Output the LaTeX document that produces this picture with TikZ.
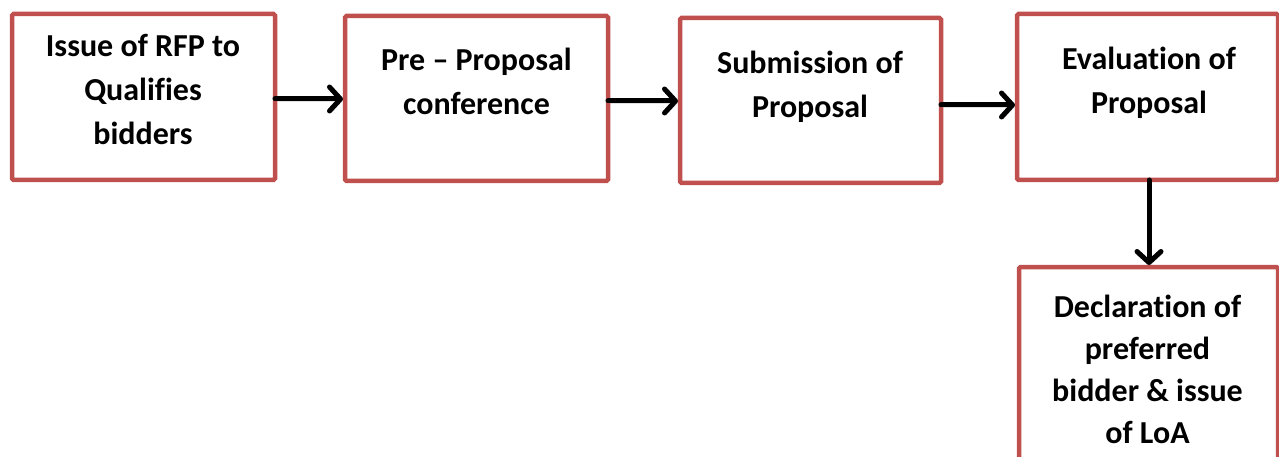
\documentclass[tikz,border=0pt]{standalone}
\usepackage{fontspec}
\setmainfont[Ligatures=NoCommon]{Carlito}
\usetikzlibrary{arrows.meta}
\definecolor{boxred}{HTML}{C0504D}
\begin{document}
\begin{tikzpicture}[x=1pt,y=-1pt,
  stagebox/.style={draw=boxred, line width=4.5pt, rounded corners=1.5pt, fill=white,
    inner sep=0pt, outer sep=0pt},
  stagetext/.style={font=\fontsize{32}{44}\selectfont\bfseries, align=center,
    anchor=base, inner sep=0pt},
  flow/.style={line width=5pt, line cap=round,
    -{Straight Barb[length=11pt,width=24pt,line cap=round,line join=round]},
    shorten >=2pt,
    preaction={draw=black!35, draw opacity=0.35, transform canvas={shift={(1.5pt,-2.5pt)}}}}]
\useasboundingbox (0,0) rectangle (1279,457);
\clip (0,0) rectangle (1279,457);

% stage boxes
\node[stagebox, minimum width=263pt, minimum height=166pt] (b1) at (143.5,97) {};
\node[stagebox, minimum width=263pt, minimum height=165pt] (b2) at (476.5,98.5) {};
\node[stagebox, minimum width=261pt, minimum height=165pt] (b3) at (810.5,100.5) {};
\node[stagebox, minimum width=261pt, minimum height=166pt] (b4) at (1147.5,97) {};
\node[stagebox, minimum width=259pt, minimum height=233pt] (b5) at (1148.5,383.5) {};

% stage labels (anchored on the baseline of their last line)
\node[stagetext] (t1) at (143,145) {Issue of RFP to\\Qualifies\\bidders};
\node[stagetext] (t2) at (476.5,115) {Pre – Proposal\\conference};
\node[stagetext] (t3) at (810,118) {Submission of\\Proposal};
\node[stagetext] (t4) at (1149,114) {Evaluation of\\Proposal};
\node[stagetext, font=\fontsize{32}{42}\selectfont\bfseries] (t5) at (1147.5,443)
  {Declaration of\\preferred\\bidder \& issue\\of LoA};

% flow arrows
\draw[flow] ([yshift=-2pt]b1.east) -- ([yshift=-2pt]b2.west |- b1.east);
\draw[flow] ([yshift=-2.5pt]b2.east) -- ([yshift=-2.5pt]b3.west |- b2.east);
\draw[flow] ([yshift=-4.5pt]b3.east) -- ([yshift=-4.5pt]b4.west |- b3.east);
\draw[flow] ([xshift=1.5pt]b4.south) -- ([xshift=1.5pt]b4.south |- b5.north);
\end{tikzpicture}
\end{document}
